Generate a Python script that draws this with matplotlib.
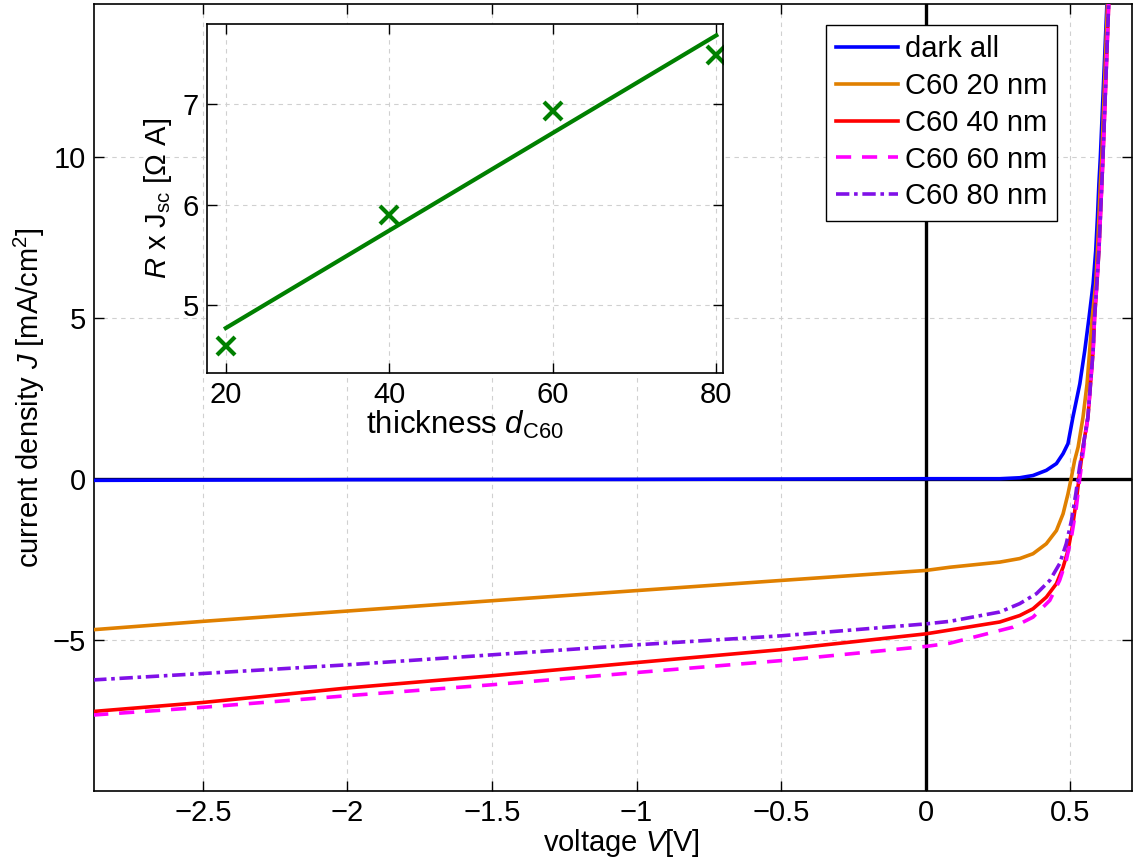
import numpy as np
import matplotlib
matplotlib.use("Agg")
import matplotlib.pyplot as plt

plt.rcParams['font.family'] = ['Liberation Sans', 'DejaVu Sans']
plt.rcParams['mathtext.fontset'] = 'custom'
plt.rcParams['mathtext.rm'] = 'Liberation Sans'
plt.rcParams['mathtext.it'] = 'Liberation Sans:italic'

# J-V curves (V in volts, J in mA/cm^2)
v_dark = [-2.88, -2.0, -1.0, 0.0, 0.257, 0.326, 0.372, 0.418, 0.453, 0.476, 0.493, 0.51, 0.534,
          0.551, 0.566, 0.580, 0.589, 0.595, 0.600, 0.605, 0.628]
j_dark = [-0.05, -0.03, -0.02, 0.0, 0.0, 0.03, 0.10, 0.26, 0.47, 0.78, 1.09, 1.91, 2.95,
          3.98, 5.02, 6.06, 7.09, 8.12, 9.16, 9.99, 14.8]

v_20 = [-2.88, -2.5, -2.0, -1.5, -1.0, -0.5, 0.0, 0.084, 0.257, 0.326, 0.372, 0.418, 0.453, 0.476,
        0.493, 0.505, 0.516, 0.528, 0.545, 0.559, 0.568, 0.577, 0.589, 0.595, 0.600, 0.605, 0.610, 0.630]
j_20 = [-4.69, -4.43, -4.11, -3.79, -3.475, -3.16, -2.85, -2.75, -2.59, -2.48, -2.33, -2.02, -1.61, -1.09,
        -0.47, 0.05, 0.57, 0.98, 1.91, 2.95, 3.98, 5.02, 6.06, 7.09, 8.12, 9.16, 9.99, 14.8]

v_40 = [-2.88, -2.5, -2.0, -1.5, -1.0, -0.5, 0.0, 0.084, 0.257, 0.326, 0.372, 0.418, 0.453, 0.476,
        0.493, 0.510, 0.522, 0.533, 0.545, 0.562, 0.571, 0.580, 0.585, 0.593, 0.600, 0.605, 0.610,
        0.614, 0.634]
j_40 = [-7.23, -6.95, -6.50, -6.12, -5.71, -5.31, -4.82, -4.70, -4.45, -4.25, -4.04, -3.68, -3.26, -2.75,
        -2.23, -1.40, -0.67, 0.16, 0.98, 1.91, 2.95, 3.98, 5.02, 6.06, 7.09, 8.12, 9.16,
        9.99, 14.8]

v_60 = [-2.88, -2.5, -2.0, -1.5, -1.0, -0.5, 0.0, 0.084, 0.303, 0.372, 0.430, 0.464, 0.487, 0.505,
        0.522, 0.533, 0.545, 0.562, 0.571, 0.580, 0.585, 0.593, 0.600, 0.605, 0.610, 0.614, 0.634]
j_60 = [-7.34, -7.10, -6.74, -6.40, -6.02, -5.65, -5.21, -5.11, -4.61, -4.30, -3.78, -3.16, -2.54, -1.81,
        -0.88, -0.05, 0.78, 1.91, 2.95, 3.98, 5.02, 6.06, 7.09, 8.12, 9.16, 9.99, 14.8]

v_80 = [-2.88, -2.5, -2.0, -1.5, -1.0, -0.5, 0.0, 0.084, 0.257, 0.326, 0.384, 0.430, 0.464, 0.487,
        0.505, 0.520, 0.533, 0.545, 0.562, 0.571, 0.580, 0.585, 0.593, 0.600, 0.605, 0.610, 0.614, 0.634]
j_80 = [-6.25, -6.05, -5.78, -5.47, -5.16, -4.88, -4.51, -4.43, -4.14, -3.88, -3.57, -3.16, -2.64, -2.02,
        -1.30, -0.47, 0.36, 0.98, 1.91, 2.95, 3.98, 5.02, 6.06, 7.09, 8.12, 9.16, 9.99, 14.8]

# inset: R x Jsc vs C60 thickness
thickness = [20, 40, 60, 80]
r_jsc = [4.59, 5.90, 6.93, 7.49]

FS = 21
grid_kw = dict(color='#d0d0d0', linestyle=(0, (4, 4)), linewidth=0.8)

fig = plt.figure(figsize=(11.33, 8.64), dpi=100)
ax = fig.add_axes([0.083, 0.0845, 0.9165, 0.911])

ax.axhline(0, color='black', lw=2.4, zorder=1)
ax.axvline(0, color='black', lw=2.4, zorder=1)

lw = 2.6
ax.plot(v_dark, j_dark, color='#0000ff', lw=lw, label='dark all', zorder=3)
ax.plot(v_20, j_20, color='#e08000', lw=lw, label='C60 20 nm', zorder=3)
ax.plot(v_40, j_40, color='#ff0000', lw=lw, label='C60 40 nm', zorder=3)
ax.plot(v_60, j_60, color='#ff00ff', lw=lw, dashes=(4.2, 3.0), label='C60 60 nm', zorder=3)
ax.plot(v_80, j_80, color='#8010e8', lw=lw, dashes=(3.7, 1.3, 1.0, 1.3), label='C60 80 nm', zorder=3)

ax.set_xlim(-2.877, 0.716)
ax.set_ylim(-9.7, 14.75)
ax.set_xticks([-2.5, -2, -1.5, -1, -0.5, 0, 0.5])
ax.set_xticklabels(['\u22122.5', '\u22122', '\u22121.5', '\u22121', '\u22120.5', '0', '0.5'])
ax.set_yticks([-5, 0, 5, 10])
ax.set_yticklabels(['\u22125', '0', '5', '10'])
ax.tick_params(direction='in', top=True, right=True, length=7, width=1, labelsize=FS, pad=6)
ax.grid(True, **grid_kw)
ax.set_axisbelow(True)
for s in ax.spines.values():
    s.set_linewidth(1.2)
ax.set_xlabel('voltage $V$[V]', fontsize=FS)
ax.xaxis.set_label_coords(0.508, -0.046)
ax.set_ylabel('current density $J$ [mA/cm$^2$]', fontsize=FS, labelpad=4)

leg = ax.legend(loc='upper left', bbox_to_anchor=(0.705, 0.973), fontsize=FS, frameon=True,
                fancybox=False, edgecolor='black', framealpha=1, handlelength=2.1,
                labelspacing=0.3, borderpad=0.35, handletextpad=0.25, borderaxespad=0)
leg.get_frame().set_linewidth(1.0)

# inset
ins = fig.add_axes([0.1827, 0.5683, 0.4553, 0.4039])
slope, icpt = np.polyfit(thickness, r_jsc, 1)
tfit = np.array([thickness[0], thickness[-1]])
ins.plot(tfit, slope * tfit + icpt, color='#008000', lw=3)
ins.plot(thickness, r_jsc, 'x', color='#008000', ms=13, mew=3)
ins.set_xlim(17.7, 80.8)
ins.set_ylim(4.32, 7.8)
ins.set_xticks([20, 40, 60, 80])
ins.set_yticks([5, 6, 7])
ins.tick_params(direction='in', top=True, right=True, length=7, width=1, labelsize=FS, pad=6)
ins.grid(True, **grid_kw)
ins.set_axisbelow(True)
for s in ins.spines.values():
    s.set_linewidth(1.2)
ins.set_xlabel('thickness $d_{\\rm C60}$', fontsize=22.5, labelpad=0)
ins.set_ylabel('$R$ x J$_{\\rm sc}$ [\u03a9 A]', fontsize=FS, labelpad=6)

fig.savefig('out.png', dpi=100)
